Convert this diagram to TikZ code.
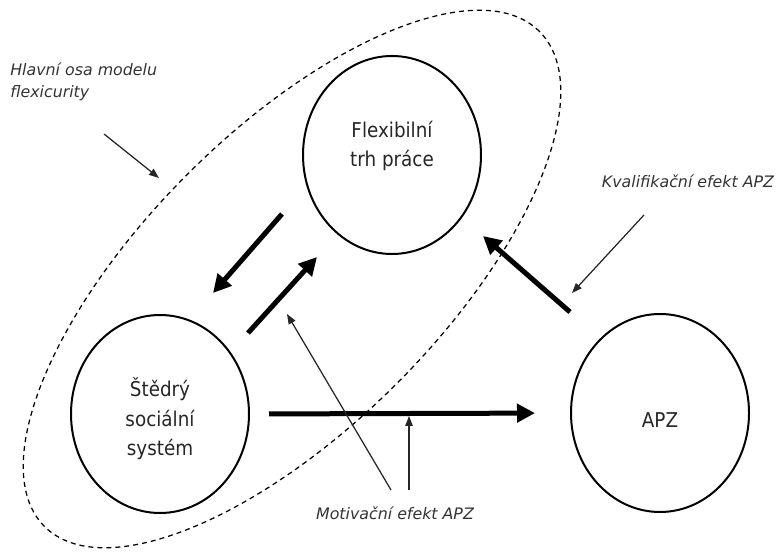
\documentclass[tikz,border=0pt]{standalone}
\usepackage{fontspec}
\setmainfont{DejaVu Sans}
\newfontfamily\condfont{DejaVu Sans Condensed}
\usetikzlibrary{arrows.meta,shapes.geometric}
\begin{document}
\begin{tikzpicture}[
  circ/.style={draw,line width=0.04cm,ellipse,minimum width=3.56cm,minimum height=3.96cm},
  txt/.style={align=center,inner sep=0pt,font=\condfont\fontsize{11.6}{16.8}\selectfont,text=black!85},
  note/.style={align=left,inner sep=0pt,font=\fontsize{9}{12}\selectfont\itshape,text=black!80},
  bigarrow/.style={line width=0.1cm,-{Triangle[length=0.36cm,width=0.36cm]}},
  smallarrow/.style={line width=0.025cm,black!85,-{Triangle[length=0.2cm,width=0.15cm]}}]
  \useasboundingbox (0,0) rectangle (15.54,11.06);

  %main axis
  \draw[dash pattern=on 0.1cm off 0.08cm,line width=0.025cm,rotate around={45:(5.84,5.48)}]
    (5.84,5.48) ellipse (7.0cm and 2.96cm);

  %circles
  \node[circ,label={[txt,yshift=0.18cm]center:Flexibilní\\trh práce}] (flex) at (7.84,7.96) {};
  \node[circ,label={[txt,yshift=-0.1cm]center:Štědrý\\sociální\\systém}] (soc) at (3.2,2.78) {};
  \node[circ,label={[txt,yshift=-0.14cm]center:APZ}] (apz) at (13.2,2.8) {};

  %labels
  \node[note,anchor=north west] (hlavni) at (0.2,9.8) {Hlavní osa modelu\\flexicurity};
  \node[note] (kval) at (13.76,7.44) {Kvalifikační efekt APZ};
  \node[note] (motiv) at (7.9,0.8) {Motivační efekt APZ};

  %arrow ends
  \coordinate (a1) at (5.64,6.78);
  \coordinate (a2) at (4.26,5.2);
  \coordinate (b1) at (4.96,4.4);
  \coordinate (b2) at (6.34,5.92);
  \coordinate (c1) at (11.4,4.82);
  \coordinate (c2) at (9.66,6.34);
  \coordinate (h1) at (2.08,8.38);
  \coordinate (h2) at (3.18,7.5);
  \coordinate (k1) at (12.88,6.76);
  \coordinate (k2) at (11.44,5.2);
  \coordinate (m1) at (7.82,1.26);
  \coordinate (m2) at (5.74,4.78);
  \coordinate (m3) at (8.18,1.26);
  \coordinate (m4) at (8.18,2.74);

  %thick arrows
  \draw[bigarrow] (a1) -- (a2);
  \draw[bigarrow] (b1) -- (b2);
  \draw[bigarrow] (c1) -- (c2);
  \draw[bigarrow,shorten <=0.38cm,shorten >=0.7cm] (soc.east) -- (apz.west);

  %thin arrows
  \draw[smallarrow] (h1) -- (h2);
  \draw[smallarrow] (k1) -- (k2);
  \draw[smallarrow] (m1) -- (m2);
  \draw[smallarrow] (m3) -- (m4);

\end{tikzpicture}
\end{document}
